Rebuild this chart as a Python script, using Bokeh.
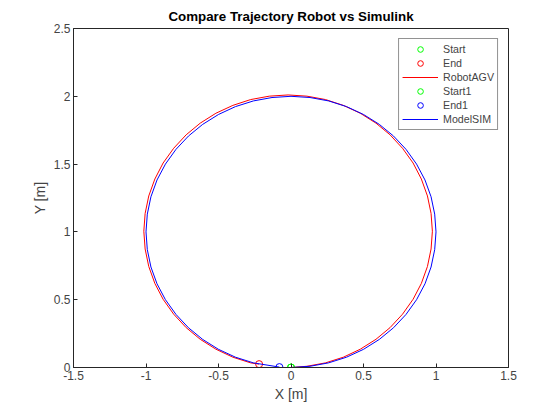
from bokeh.plotting import figure
from bokeh.models import FixedTicker, Legend, LegendItem
from bokeh.embed import file_html
from bokeh.resources import INLINE

# trajectories
robot_x = [0.0, 0.110, 0.238, 0.361, 0.478, 0.586, 0.683, 0.769, 0.842, 0.899, 0.941, 0.966, 0.975,
           0.966, 0.941, 0.899, 0.842, 0.769, 0.683, 0.586, 0.478, 0.361, 0.238, 0.110, -0.02,
           -0.150, -0.278, -0.401, -0.518, -0.626, -0.723, -0.809, -0.882, -0.939, -0.981, -1.006, -1.015,
           -1.006, -0.981, -0.939, -0.882, -0.809, -0.723, -0.626, -0.518, -0.401, -0.278, -0.22]
robot_y = [0.0, 0.009, 0.034, 0.076, 0.135, 0.208, 0.294, 0.393, 0.503, 0.620, 0.745, 0.874, 1.005,
           1.136, 1.265, 1.390, 1.508, 1.617, 1.716, 1.802, 1.875, 1.933, 1.976, 2.001, 2.01,
           2.001, 1.976, 1.933, 1.875, 1.802, 1.716, 1.617, 1.508, 1.390, 1.265, 1.136, 1.005,
           0.874, 0.745, 0.620, 0.503, 0.393, 0.294, 0.208, 0.135, 0.076, 0.034, 0.025]
sim_x = [0.0, 0.131, 0.259, 0.383, 0.5, 0.609, 0.707, 0.793, 0.866, 0.924, 0.966, 0.991, 1.0,
         0.991, 0.966, 0.924, 0.866, 0.793, 0.707, 0.609, 0.5, 0.383, 0.259, 0.131, 0.0,
         -0.131, -0.259, -0.383, -0.5, -0.609, -0.707, -0.793, -0.866, -0.924, -0.966, -0.991, -1.0,
         -0.991, -0.966, -0.924, -0.866, -0.793, -0.707, -0.609, -0.5, -0.383, -0.259, -0.08]
sim_y = [0.0, 0.009, 0.034, 0.076, 0.134, 0.207, 0.293, 0.391, 0.5, 0.617, 0.741, 0.869, 1.0,
         1.131, 1.259, 1.383, 1.5, 1.609, 1.707, 1.793, 1.866, 1.924, 1.966, 1.991, 2.0,
         1.991, 1.966, 1.924, 1.866, 1.793, 1.707, 1.609, 1.5, 1.383, 1.259, 1.131, 1.0,
         0.869, 0.741, 0.617, 0.5, 0.391, 0.293, 0.207, 0.134, 0.076, 0.034, 0.003]
x_ticks = [-1.5, -1, -0.5, 0, 0.5, 1, 1.5]
y_ticks = [0, 0.5, 1, 1.5, 2, 2.5]

font = "Liberation Sans"
p = figure(width=544, height=404, x_range=(-1.5, 1.5), y_range=(0, 2.5),
           output_backend="svg", toolbar_location=None,
           min_border_left=73, min_border_right=36, min_border_top=28, min_border_bottom=29)
p.title.text = "Compare Trajectory Robot vs Simulink"
p.title.align = "center"
p.title.text_font = font
p.title.text_font_size = "10pt"
p.title.text_color = "black"
p.grid.visible = False
p.outline_line_color = "#262626"
p.background_fill_color = "white"

for ax, ticks, lab in [(p.xaxis, x_ticks, "X [m]"), (p.yaxis, y_ticks, "Y [m]")]:
    ax.ticker = FixedTicker(ticks=ticks)
    ax.axis_label = lab
    ax.axis_label_text_font = font
    ax.axis_label_text_font_style = "normal"
    ax.axis_label_text_font_size = "10.5pt"
    ax.axis_label_standoff = 3
    ax.major_label_text_font = font
    ax.major_label_text_font_size = "9pt"
    ax.major_label_standoff = 3
    ax.major_tick_in = 4
    ax.major_tick_out = 0
    ax.minor_tick_line_color = None
    ax.axis_line_color = "#262626"
    ax.major_tick_line_color = "#262626"
p.xaxis.major_label_overrides = {t: ("%g" % t) for t in x_ticks}

s1 = p.scatter([robot_x[0]], [robot_y[0]], marker="circle", size=7, fill_color=None, line_color="#00ff00")
e1 = p.scatter([robot_x[-1]], [robot_y[-1]], marker="circle", size=7, fill_color=None, line_color="red")
l1 = p.line(robot_x, robot_y, line_color="red", line_width=1)
s2 = p.scatter([sim_x[0]], [sim_y[0]], marker="circle", size=7, fill_color=None, line_color="#00ff00")
e2 = p.scatter([sim_x[-1]], [sim_y[-1]], marker="circle", size=7, fill_color=None, line_color="blue")
l2 = p.line(sim_x, sim_y, line_color="blue", line_width=1)

legend = Legend(items=[LegendItem(label="Start", renderers=[s1]),
                       LegendItem(label="End", renderers=[e1]),
                       LegendItem(label="RobotAGV", renderers=[l1]),
                       LegendItem(label="Start1", renderers=[s2]),
                       LegendItem(label="End1", renderers=[e2]),
                       LegendItem(label="ModelSIM", renderers=[l2])],
                location="top_right")
legend.margin = 10
legend.padding = 3
legend.spacing = 0
legend.glyph_height = 14
legend.label_height = 14
legend.glyph_width = 36
legend.label_text_font = font
legend.label_text_font_size = "8pt"
legend.border_line_color = "#262626"
p.add_layout(legend)

open("out.html", "w").write(file_html(p, INLINE))
